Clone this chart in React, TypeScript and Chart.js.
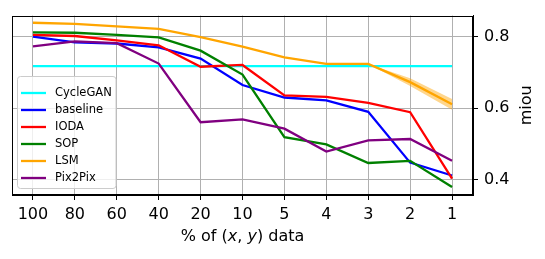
import React, { useEffect, useRef } from 'react';
import { Chart, registerables } from 'chart.js';

Chart.register(...registerables);

const xLabels = ['100', '80', '60', '40', '20', '10', '5', '4', '3', '2', '1'];
const cycleGAN = [0.718, 0.718, 0.718, 0.718, 0.718, 0.718, 0.718, 0.718, 0.718, 0.718, 0.718];
const baseline = [0.8, 0.784, 0.781, 0.77, 0.739, 0.665, 0.63, 0.622, 0.59, 0.448, 0.412];
const ioda = [0.805, 0.802, 0.79, 0.776, 0.716, 0.721, 0.636, 0.632, 0.615, 0.589, 0.403];
const sop = [0.812, 0.811, 0.805, 0.798, 0.761, 0.694, 0.519, 0.499, 0.447, 0.453, 0.38];
const lsm = [0.839, 0.836, 0.829, 0.822, 0.799, 0.772, 0.742, 0.724, 0.724, 0.673, 0.611];
const lsmUpper = [0.839, 0.836, 0.829, 0.822, 0.799, 0.772, 0.743, 0.725, 0.724, 0.684, 0.626];
const lsmLower = [0.839, 0.836, 0.829, 0.822, 0.799, 0.772, 0.741, 0.723, 0.724, 0.662, 0.596];
const pix2pix = [0.773, 0.787, 0.782, 0.725, 0.561, 0.569, 0.543, 0.479, 0.51, 0.514, 0.453];
const yTicks = [0.4, 0.6, 0.8];

const legendItems = [
  { label: 'CycleGAN', color: '#00ffff' },
  { label: 'baseline', color: '#0000ff' },
  { label: 'IODA', color: '#ff0000' },
  { label: 'SOP', color: '#008000' },
  { label: 'LSM', color: '#ffa500' },
  { label: 'Pix2Pix', color: '#800080' },
];

const FONT = '"DejaVu Sans", sans-serif';
const LW = 2.3;

function line(label: string, data: number[], color: string) {
  return {
    label,
    data,
    borderColor: color,
    backgroundColor: color,
    borderWidth: LW,
    pointRadius: 0,
    tension: 0,
    fill: false,
  };
}

const decorPlugin = {
  id: 'decor',
  afterDatasetsDraw(chart: any) {
    const { ctx, chartArea } = chart;
    ctx.save();
    ctx.strokeStyle = '#000';
    ctx.lineWidth = 1;
    const l = Math.round(chartArea.left) + 0.5;
    const r = Math.round(chartArea.right) - 0.5;
    const t = Math.round(chartArea.top) + 0.5;
    const b = Math.round(chartArea.bottom) - 0.5;
    ctx.strokeRect(l, t, r - l, b - t);
    ctx.restore();
  },
  afterDraw(chart: any) {
    const { ctx, chartArea } = chart;
    ctx.save();
    // legend
    const bx = 17.5, by = 76.5, bw = 98.5, bh = 112;
    const rad = 3;
    ctx.beginPath();
    ctx.moveTo(bx + rad, by);
    ctx.lineTo(bx + bw - rad, by);
    ctx.quadraticCurveTo(bx + bw, by, bx + bw, by + rad);
    ctx.lineTo(bx + bw, by + bh - rad);
    ctx.quadraticCurveTo(bx + bw, by + bh, bx + bw - rad, by + bh);
    ctx.lineTo(bx + rad, by + bh);
    ctx.quadraticCurveTo(bx, by + bh, bx, by + bh - rad);
    ctx.lineTo(bx, by + rad);
    ctx.quadraticCurveTo(bx, by, bx + rad, by);
    ctx.closePath();
    ctx.fillStyle = 'rgba(255,255,255,0.8)';
    ctx.fill();
    ctx.strokeStyle = '#cccccc';
    ctx.lineWidth = 1;
    ctx.stroke();
    ctx.font = `11.5px ${FONT}`;
    ctx.textBaseline = 'middle';
    ctx.textAlign = 'left';
    legendItems.forEach((it, i) => {
      const y = 93 + i * 17;
      ctx.strokeStyle = it.color;
      ctx.lineWidth = LW;
      ctx.beginPath();
      ctx.moveTo(21, y);
      ctx.lineTo(46, y);
      ctx.stroke();
      ctx.fillStyle = '#000';
      ctx.fillText(it.label, 55, y);
    });

    // x title with italic x, y
    const parts: [string, boolean][] = [
      ['% of (', false],
      ['x', true],
      [', ', false],
      ['y', true],
      [') data', false],
    ];
    const size = 16;
    let total = 0;
    const widths = parts.map(([s, it]) => {
      ctx.font = `${it ? 'italic ' : ''}${size}px ${FONT}`;
      const w = ctx.measureText(s).width;
      total += w;
      return w;
    });
    let x = (chartArea.left + chartArea.right) / 2 - total / 2;
    ctx.fillStyle = '#000';
    ctx.textBaseline = 'alphabetic';
    parts.forEach(([s, it], i) => {
      ctx.font = `${it ? 'italic ' : ''}${size}px ${FONT}`;
      ctx.fillText(s, x, 241);
      x += widths[i];
    });

    // y title (right side, bottom-to-top)
    ctx.translate(530.5, (chartArea.top + chartArea.bottom) / 2);
    ctx.rotate(-Math.PI / 2);
    ctx.font = `16px ${FONT}`;
    ctx.textAlign = 'center';
    ctx.fillText('miou', 0, 0);
    ctx.restore();
  },
};

export default function App() {
  const ref = useRef<HTMLCanvasElement>(null);
  useEffect(() => {
    const tickFont = { family: FONT, size: 16 };
    const chart = new Chart(ref.current as HTMLCanvasElement, {
      type: 'line',
      data: {
        labels: xLabels,
        datasets: [
          line('Pix2Pix', pix2pix, '#800080'),
          line('LSM', lsm, '#ffa500'),
          {
            label: 'LSM upper',
            data: lsmUpper,
            borderWidth: 0,
            borderColor: 'rgba(0,0,0,0)',
            backgroundColor: 'rgba(255,165,0,0.45)',
            pointRadius: 0,
            tension: 0,
            fill: '+1',
          },
          {
            label: 'LSM lower',
            data: lsmLower,
            borderWidth: 0,
            borderColor: 'rgba(0,0,0,0)',
            backgroundColor: 'rgba(255,165,0,0.45)',
            pointRadius: 0,
            tension: 0,
            fill: false,
          },
          line('SOP', sop, '#008000'),
          line('IODA', ioda, '#ff0000'),
          line('baseline', baseline, '#0000ff'),
          line('CycleGAN', cycleGAN, '#00ffff'),
        ] as any,
      },
      options: {
        animation: false,
        responsive: false,
        maintainAspectRatio: false,
        devicePixelRatio: 1,
        layout: { padding: { left: 12, top: 12, right: 0, bottom: 0 } },
        plugins: {
          legend: { display: false },
          tooltip: { enabled: false },
          title: { display: false },
        },
        scales: {
          x: {
            type: 'category',
            offset: true,
            grid: {
              color: '#b0b0b0',
              lineWidth: 1,
              tickColor: '#000',
              tickLength: 5,
              drawTicks: true,
            },
            border: { color: '#000', width: 1 },
            ticks: {
              font: tickFont,
              color: '#000',
              padding: 5,
              maxRotation: 0,
              autoSkip: false,
            },
            afterFit: (s: any) => {
              s.height = 64;
            },
          },
          y: {
            type: 'linear',
            position: 'right',
            min: 0.3575,
            max: 0.859,
            afterBuildTicks: (s: any) => {
              s.ticks = yTicks.map((v) => ({ value: v }));
            },
            grid: {
              color: '#b0b0b0',
              lineWidth: 1,
              tickColor: '#000',
              tickLength: 5,
            },
            border: { color: '#000', width: 1 },
            ticks: {
              font: tickFont,
              color: '#000',
              padding: 6,
              callback: (v: any) => Number(v).toFixed(1),
            },
            afterFit: (s: any) => {
              s.width = 72;
            },
          },
        },
      } as any,
      plugins: [decorPlugin],
    });
    return () => chart.destroy();
  }, []);
  return (
    <div style={{ position: 'fixed', left: 0, top: 0, width: 545, height: 259, background: '#fff' }}>
      <canvas ref={ref} width={545} height={259} style={{ width: 545, height: 259, display: 'block' }} />
    </div>
  );
}
